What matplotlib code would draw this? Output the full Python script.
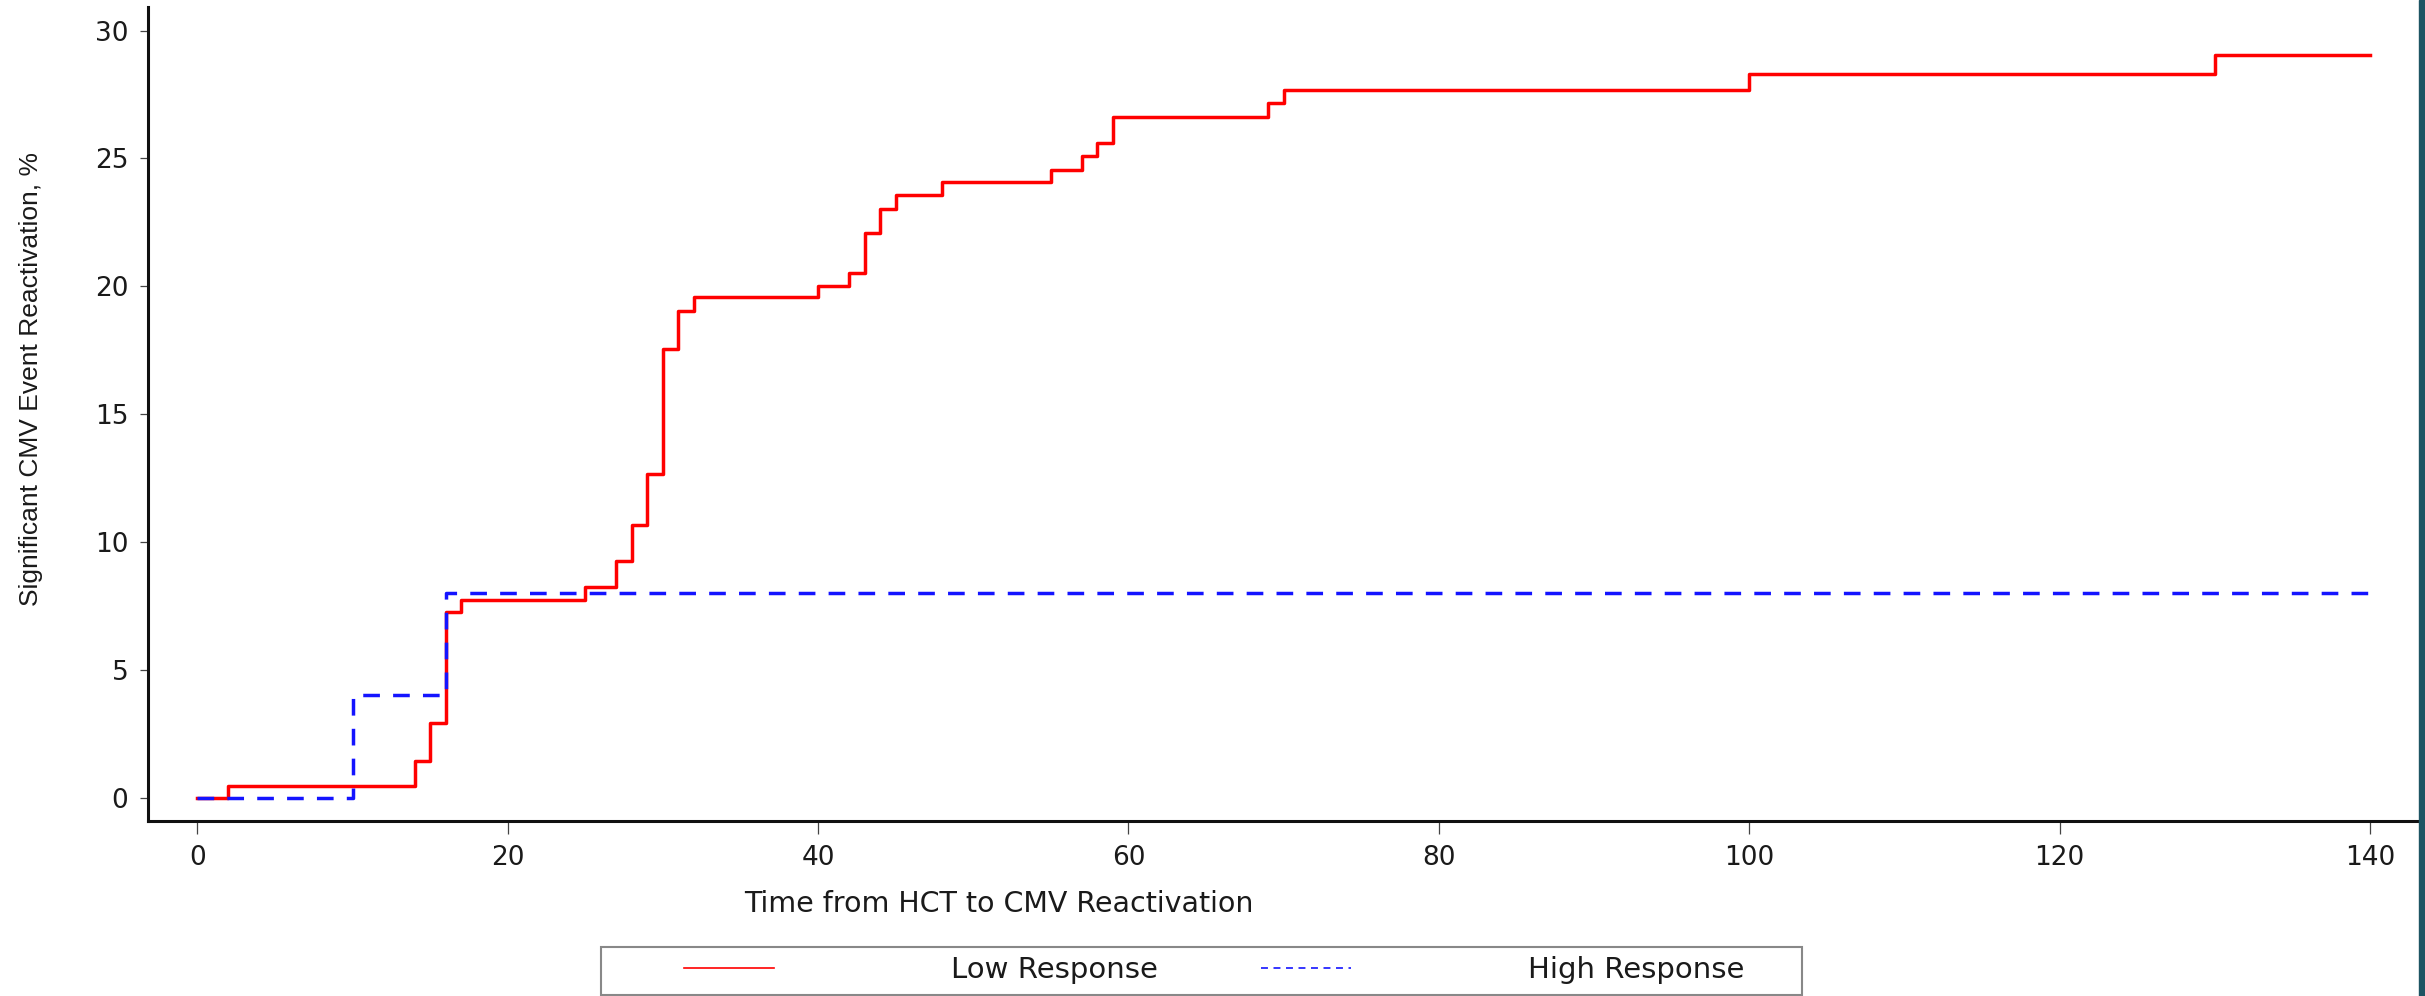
import matplotlib
matplotlib.use("Agg")
import matplotlib.pyplot as plt
from matplotlib.patches import Rectangle

# Cumulative incidence of significant CMV reactivation (%)
low_days = [0, 2, 14, 15, 16, 17, 25, 27, 28, 29, 30, 31, 32, 40, 42, 43, 44,
            45, 48, 55, 57, 58, 59, 69, 70, 100, 130]
low_pct = [0, 0.47, 1.45, 2.92, 7.28, 7.75, 8.24, 9.24, 10.68, 12.67, 17.56,
           19.05, 19.58, 20.02, 20.52, 22.08, 23.03, 23.58, 24.06, 24.56,
           25.08, 25.6, 26.62, 27.17, 27.67, 28.28, 29.03]

high_days = [0, 10, 16]
high_pct = [0, 4, 8]

end_day = 140
x_ticks = [0, 20, 40, 60, 80, 100, 120, 140]
y_ticks = [0, 5, 10, 15, 20, 25, 30]

plt.rcParams['lines.scale_dashes'] = False

W, H = 2425, 996
fig = plt.figure(figsize=(W / 100, H / 100), dpi=100)
ax = fig.add_axes([0.0610, 0.1757, 0.9361, 0.8173])

ax.step(low_days + [end_day], low_pct + [low_pct[-1]], where='post',
        color='#ff0000', lw=2.5, label='Low Response', zorder=2)
ax.step(high_days + [end_day], high_pct + [high_pct[-1]], where='post',
        color='#1414ff', lw=2.5, dashes=(12, 9.5), label='High Response', zorder=3)

ax.set_xlim(-3.19, 143.1)
ax.set_ylim(-0.91, 30.92)
ax.set_xticks(x_ticks)
ax.set_yticks(y_ticks)

for side in ['top', 'right']:
    ax.spines[side].set_visible(False)
for side in ['left', 'bottom']:
    ax.spines[side].set_linewidth(2.2)
    ax.spines[side].set_color('#111111')

ax.tick_params(axis='x', length=9, width=0.9, color='#444444', pad=8,
               labelsize=19, labelcolor='#1a1a1a')
ax.tick_params(axis='y', length=6, width=0.9, color='#444444', pad=8,
               labelsize=19, labelcolor='#1a1a1a')

fig.text(31 / W, 1 - 379 / H, 'Significant CMV Event Reactivation, %',
         rotation=90, ha='center', va='center', fontsize=19,
         family='Liberation Sans', color='#1a1a1a')
fig.text(999 / W, 1 - 904 / H, 'Time from HCT to CMV Reactivation',
         ha='center', va='center', fontsize=20.5, color='#1a1a1a')

# legend: frame drawn separately, entries placed inside it
fig.patches.append(Rectangle((601 / W, 1 - 995 / H), 1201 / W, 48 / H,
                             transform=fig.transFigure, facecolor='white',
                             edgecolor='#888888', lw=1.5, zorder=1))
leg = fig.legend(loc='center left', bbox_to_anchor=(684 / W, 1 - 970 / H),
                 ncol=2, fontsize=21, handlelength=3.09, handletextpad=6.07,
                 columnspacing=3.53, borderpad=0, borderaxespad=0,
                 frameon=False)
for t in leg.get_texts():
    t.set_color('#1a1a1a')
for h in leg.get_lines():
    h.set_linewidth(1.2)
leg.get_lines()[1].set_dashes((5, 4))

# dark strip on the right edge of the slide
fig.patches.append(Rectangle((2419 / W, 0), 6 / W, 1, transform=fig.transFigure,
                             color='#1d5463', zorder=10))

fig.savefig('out.png', dpi=100)
